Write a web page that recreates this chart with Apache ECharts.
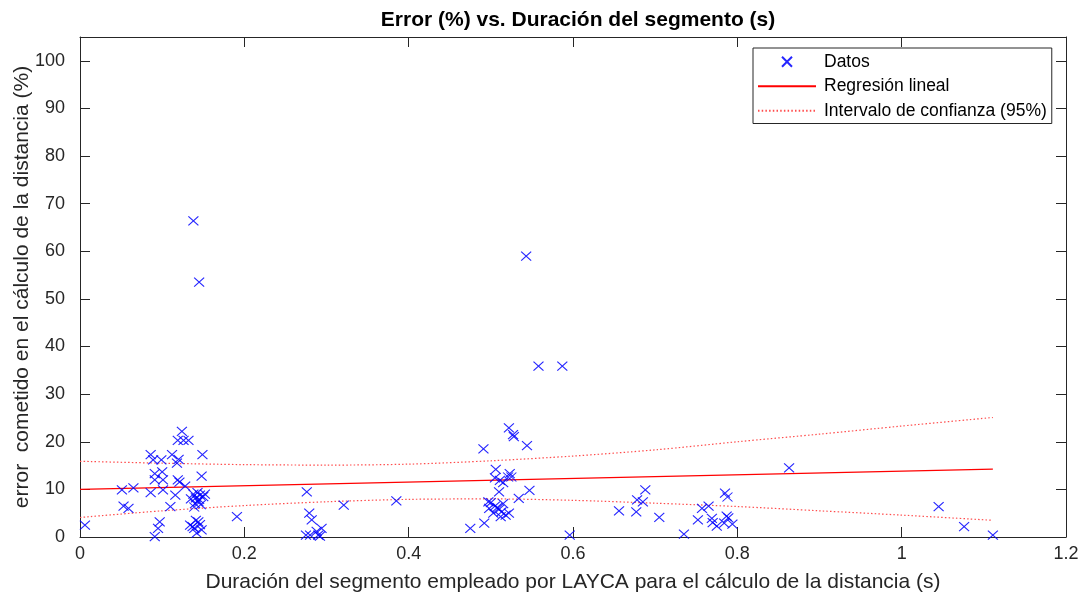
<!DOCTYPE html>
<html>
<head>
<meta charset="utf-8">
<title>Error (%) vs. Duración del segmento (s)</title>
<script src="https://cdn.jsdelivr.net/npm/echarts@6/dist/echarts.min.js"></script>
<style>
  html, body { margin: 0; padding: 0; background: #ffffff; }
  #chart { width: 1082px; height: 601px; }
</style>
</head>
<body>
<div id="chart"></div>
<script>
// Segment duration (s) and distance error (%) for each measurement
const duracion = [
  0.006, 0.051, 0.065, 0.053, 0.059, 0.086, 0.089, 0.099, 0.091, 0.100,
  0.091, 0.101, 0.086, 0.101, 0.112, 0.120, 0.118, 0.124, 0.119, 0.132,
  0.126, 0.149, 0.148, 0.119, 0.121, 0.128, 0.116, 0.110,
  0.138, 0.141, 0.144, 0.140, 0.146, 0.150, 0.135, 0.143, 0.147, 0.139, 0.152, 0.145,
  0.191, 0.097, 0.095, 0.091,
  0.134, 0.137, 0.144, 0.142, 0.139, 0.146, 0.148, 0.141,
  0.138, 0.145,
  0.276, 0.279, 0.282, 0.275, 0.280, 0.290, 0.294, 0.288, 0.292, 0.321, 0.385,
  0.522, 0.527, 0.528, 0.544, 0.491, 0.506, 0.505, 0.511, 0.515, 0.523,
  0.525, 0.521, 0.510, 0.547, 0.534, 0.497,
  0.500, 0.505, 0.510, 0.503, 0.513, 0.508, 0.518, 0.515, 0.522, 0.498, 0.512,
  0.475, 0.492, 0.596, 0.543, 0.558, 0.587,
  0.863, 0.688, 0.678, 0.685, 0.656, 0.677, 0.705, 0.735, 0.752, 0.757,
  0.765, 0.769, 0.770, 0.775, 0.785, 0.788, 0.787, 0.789, 0.784, 0.794,
  1.045, 1.076, 1.111
];
const errorPct = [
  2.5, 9.9, 10.3, 6.5, 6.0, 17.3, 16.2, 16.2, 13.3, 13.7,
  12.0, 12.0, 9.3, 9.9, 17.3, 16.3, 15.5, 22.2, 20.3, 20.3,
  20.3, 17.3, 12.8, 12.0, 11.5, 10.7, 8.8, 6.4,
  9.0, 8.2, 7.5, 7.0, 8.8, 8.5, 8.0, 9.3, 6.8, 6.3, 9.0, 7.9,
  4.3, 3.2, 1.8, 0.1,
  2.5, 2.2, 3.2, 0.8, 1.8, 2.6, 1.5, 3.5,
  66.4, 53.5,
  9.5, 5.0, 3.6, 0.4, 0.4, 0.4, 1.8, 1.2, 0.2, 6.7, 7.6,
  22.9, 21.5, 21.1, 19.2, 18.5, 14.2, 12.4, 11.9, 11.4, 13.3,
  12.6, 12.6, 9.5, 9.8, 8.1, 7.4,
  7.2, 6.5, 5.8, 5.0, 5.3, 6.2, 4.6, 7.0, 5.0, 6.0, 4.3,
  1.8, 2.9, 0.4, 59.0, 35.9, 35.9,
  14.5, 9.9, 7.8, 7.4, 5.5, 5.3, 4.1, 0.6, 3.6, 6.0,
  6.5, 3.9, 3.0, 2.3, 9.2, 8.4, 4.4, 4.0, 2.9, 2.7,
  6.4, 2.2, 0.4
];

// Fitted regression line (end points)
const regX = [0, 1.111];
const regY = [10.0, 14.25];

// 95% confidence band
const bandX     = [0, 0.1, 0.2, 0.3, 0.4, 0.5, 0.6, 0.7, 0.8, 0.9, 1.0, 1.111];
const bandUpper = [15.9, 15.5, 15.2, 15.1, 15.3, 16.0, 17.0, 18.3, 20.0, 21.6, 23.3, 25.1];
const bandLower = [4.1, 5.5, 6.6, 7.4, 7.9, 8.0, 7.7, 7.1, 6.4, 5.5, 4.6, 3.5];

// Axis ticks
const xTicks = { min: 0, max: 1.2, step: 0.2 };
const yTicks = { min: 0, max: 105, step: 10 };

const FONT = '"Liberation Sans", Arial, Helvetica, sans-serif';
const AXIS_COLOR = '#262626';

const zip = (xs, ys) => xs.map((x, i) => [x, ys[i]]);

const chart = echarts.init(document.getElementById('chart'), null, { renderer: 'canvas' });

const baseX = {
  type: 'value',
  min: xTicks.min, max: xTicks.max, interval: xTicks.step,
  axisLine: { show: true, onZero: false, lineStyle: { color: AXIS_COLOR, width: 1 } },
  axisTick: { show: true, inside: true, length: 10, lineStyle: { color: AXIS_COLOR } },
  splitLine: { show: false }
};
const baseY = {
  type: 'value',
  min: yTicks.min, max: yTicks.max, interval: yTicks.step,
  axisLine: { show: true, onZero: false, lineStyle: { color: AXIS_COLOR, width: 1 } },
  axisTick: { show: true, inside: true, length: 10, lineStyle: { color: AXIS_COLOR } },
  splitLine: { show: false }
};

const option = {
  backgroundColor: '#ffffff',
  animation: false,
  textStyle: { fontFamily: FONT },
  title: {
    text: 'Error (%) vs. Duración del segmento (s)',
    left: 573, top: 5, textAlign: 'center',
    textStyle: { fontFamily: FONT, fontSize: 21, fontWeight: 'bold', color: '#000000' }
  },
  grid: { left: 80, right: 16, top: 37, bottom: 64, containLabel: false, outerBoundsMode: 'none' },
  legend: {
    orient: 'vertical',
    left: 753, top: 48,
    padding: [4, 5, 3, 4],
    itemWidth: 58, itemHeight: 10, itemGap: 5,
    backgroundColor: '#ffffff',
    borderColor: AXIS_COLOR, borderWidth: 1, borderRadius: 0,
    textStyle: { fontFamily: FONT, fontSize: 17.5, color: '#000000', lineHeight: 19.5, padding: [0, 0, 0, 3] },
    data: [
      { name: 'Datos' },
      { name: 'Regresión lineal', itemStyle: { opacity: 0 } },
      { name: 'Intervalo de confianza (95%)', itemStyle: { opacity: 0 } }
    ]
  },
  xAxis: [
    Object.assign({}, baseX, {
      position: 'bottom',
      name: 'Duración del segmento empleado por LAYCA para el cálculo de la distancia (s)',
      nameLocation: 'middle', nameGap: 35, nameMoveOverlap: false,
      nameTextStyle: { fontFamily: FONT, fontSize: 21, color: AXIS_COLOR },
      axisLabel: { show: true, margin: 8, fontFamily: FONT, fontSize: 18, color: AXIS_COLOR }
    }),
    Object.assign({}, baseX, { position: 'top', axisLabel: { show: false } })
  ],
  yAxis: [
    Object.assign({}, baseY, {
      position: 'left',
      name: 'error  cometido en el cálculo de la distancia (%)',
      nameLocation: 'middle', nameGap: 47, nameRotate: 90, nameMoveOverlap: false,
      nameTextStyle: { fontFamily: FONT, fontSize: 21, color: AXIS_COLOR },
      axisLabel: {
        show: true, margin: 15, fontFamily: FONT, fontSize: 18, color: AXIS_COLOR,
        formatter: v => (v % yTicks.step === 0 ? String(v) : '')
      }
    }),
    Object.assign({}, baseY, { position: 'right', axisLabel: { show: false } })
  ],
  series: [
    {
      name: 'Datos',
      type: 'scatter',
      xAxisIndex: 0, yAxisIndex: 0,
      symbol: 'path://M0,0L10,10M10,0L0,10',
      symbolSize: [10, 9],
      itemStyle: { color: 'none', borderColor: '#0000ff', borderWidth: 1.1, opacity: 0.85 },
      data: zip(duracion, errorPct),
      z: 3
    },
    {
      name: 'Regresión lineal',
      type: 'line',
      xAxisIndex: 0, yAxisIndex: 0,
      symbol: 'none',
      itemStyle: { color: '#ff0000' },
      lineStyle: { color: '#ff0000', width: 1.2 },
      data: zip(regX, regY),
      z: 2
    },
    {
      name: 'Intervalo de confianza (95%)',
      type: 'line',
      xAxisIndex: 0, yAxisIndex: 0,
      symbol: 'none',
      smooth: 0.3,
      itemStyle: { color: '#ff6666' },
      lineStyle: { color: '#ff4d4d', width: 1.2, type: [1.5, 2.2] },
      data: zip(bandX, bandUpper),
      z: 2
    },
    {
      name: 'Intervalo de confianza (95%)',
      type: 'line',
      xAxisIndex: 0, yAxisIndex: 0,
      symbol: 'none',
      smooth: 0.3,
      itemStyle: { color: '#ff6666' },
      lineStyle: { color: '#ff4d4d', width: 1.2, type: [1.5, 2.2] },
      data: zip(bandX, bandLower),
      z: 2
    }
  ]
};

chart.setOption(option);
</script>
</body>
</html>
